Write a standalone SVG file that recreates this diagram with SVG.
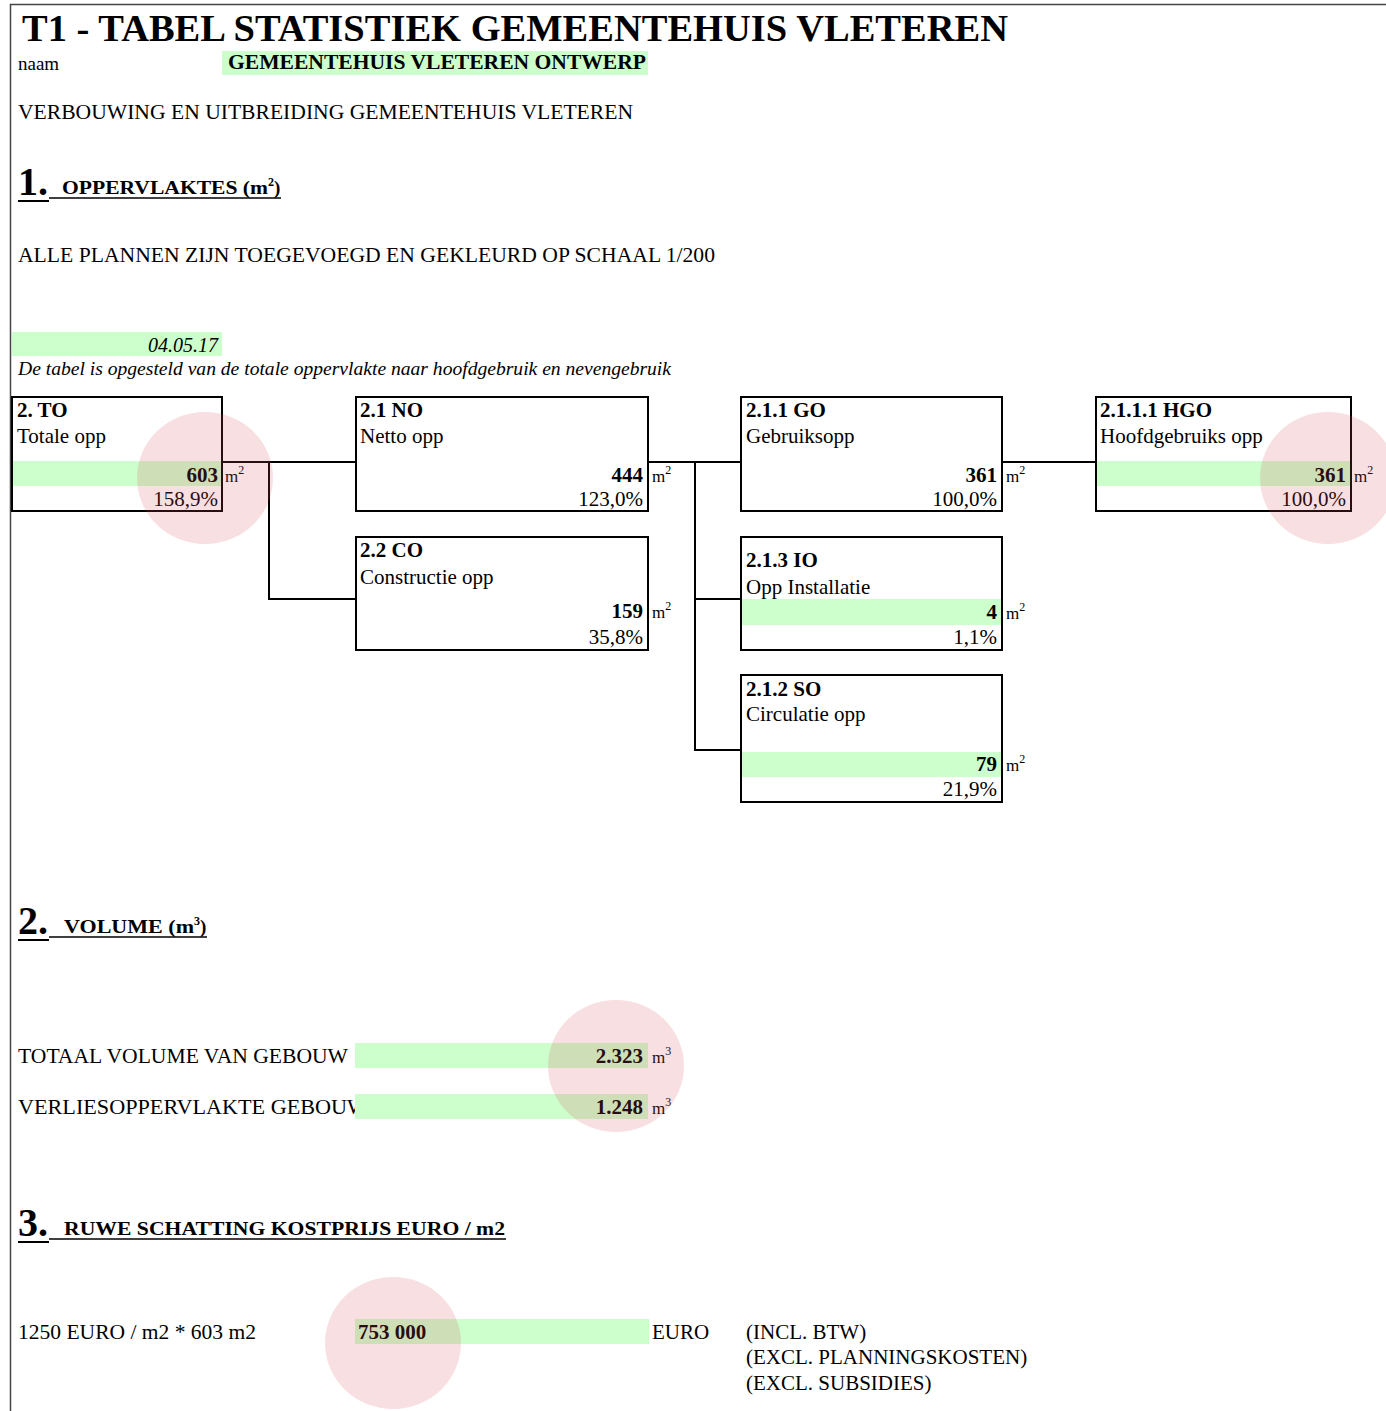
<svg xmlns="http://www.w3.org/2000/svg" width="1386" height="1411" viewBox="0 0 1386 1411">
<style>
text{font-family:"Liberation Serif","Times New Roman",serif;font-size:21px;fill:#000}
.b{font-weight:bold}
.i{font-style:italic}
.r{text-anchor:end}
.box{fill:#fff;stroke:#000;stroke-width:2}
.g{fill:#ccffcc}
.hl{fill:#d9505e;fill-opacity:0.18}
.c{stroke:#000;stroke-width:2;fill:none}
.u{stroke:#000}
.sup{font-size:12px}
</style>
<rect x="0" y="0" width="1386" height="1411" fill="#fff"/>
<path d="M10.5 1411 V4.5 H1386" fill="none" stroke="#444" stroke-width="1.5"/>

<g id="header">
<text x="22" y="41" class="b" style="font-size:38px" textLength="986" lengthAdjust="spacingAndGlyphs">T1 - TABEL STATISTIEK GEMEENTEHUIS VLETEREN</text>
<text x="18" y="70" style="font-size:19px">naam</text>
<rect x="222" y="51" width="426" height="24" class="g"/>
<text x="228" y="69" class="b" style="font-size:20px" textLength="418" lengthAdjust="spacingAndGlyphs">GEMEENTEHUIS VLETEREN ONTWERP</text>
<text x="18" y="119" textLength="615" lengthAdjust="spacingAndGlyphs">VERBOUWING EN UITBREIDING GEMEENTEHUIS VLETEREN</text>
</g>

<g id="section1">
<text x="18" y="195" class="b" style="font-size:40px">1.</text>
<line x1="18" y1="201" x2="49" y2="201" class="u" stroke-width="2"/>
<text x="62" y="194" class="b" style="font-size:19px" textLength="206" lengthAdjust="spacingAndGlyphs">OPPERVLAKTES (m</text>
<text x="268" y="186" class="b sup">2</text>
<text x="274" y="194" class="b" style="font-size:19px">)</text>
<line x1="49" y1="198" x2="281" y2="198" class="u" stroke-width="1.5"/>
<text x="18" y="262" textLength="697" lengthAdjust="spacingAndGlyphs">ALLE PLANNEN ZIJN TOEGEVOEGD EN GEKLEURD OP SCHAAL 1/200</text>
<rect x="12" y="332" width="210" height="24" class="g"/>
<text x="218" y="352" class="i r" style="font-size:20px">04.05.17</text>
<text x="18" y="375" class="i" style="font-size:19px" textLength="653" lengthAdjust="spacingAndGlyphs">De tabel is opgesteld van de totale oppervlakte naar hoofdgebruik en nevengebruik</text>
</g>

<g id="connectors">
<path class="c" d="M222 462 H356 M269 462 V599 H356"/>
<path class="c" d="M648 462 H741 M695 462 V750 H741 M695 599 H741"/>
<path class="c" d="M1002 462 H1096"/>
</g>

<g id="node-TO">
<rect x="12" y="397" width="210" height="114" class="box"/>
<rect x="13" y="461" width="208" height="25" class="g"/>
<text x="17" y="417" class="b">2. TO</text>
<text x="17" y="443">Totale opp</text>
<text x="218" y="482" class="b r">603</text>
<text x="225" y="482" style="font-size:17px">m<tspan class="sup" dy="-8">2</tspan></text>
<text x="218" y="506" class="r">158,9%</text>
</g>

<g id="node-NO">
<rect x="356" y="397" width="292" height="114" class="box"/>
<text x="360" y="417" class="b">2.1 NO</text>
<text x="360" y="443">Netto opp</text>
<text x="643" y="482" class="b r">444</text>
<text x="652" y="482" style="font-size:17px">m<tspan class="sup" dy="-8">2</tspan></text>
<text x="643" y="506" class="r">123,0%</text>
</g>

<g id="node-CO">
<rect x="356" y="537" width="292" height="113" class="box"/>
<text x="360" y="557" class="b">2.2 CO</text>
<text x="360" y="584">Constructie opp</text>
<text x="643" y="618" class="b r">159</text>
<text x="652" y="618" style="font-size:17px">m<tspan class="sup" dy="-8">2</tspan></text>
<text x="643" y="644" class="r">35,8%</text>
</g>

<g id="node-GO">
<rect x="741" y="397" width="261" height="114" class="box"/>
<text x="746" y="417" class="b">2.1.1 GO</text>
<text x="746" y="443">Gebruiksopp</text>
<text x="997" y="482" class="b r">361</text>
<text x="1006" y="482" style="font-size:17px">m<tspan class="sup" dy="-8">2</tspan></text>
<text x="997" y="506" class="r">100,0%</text>
</g>

<g id="node-HGO">
<rect x="1096" y="397" width="255" height="114" class="box"/>
<rect x="1097" y="461" width="253" height="25" class="g"/>
<text x="1100" y="417" class="b">2.1.1.1 HGO</text>
<text x="1100" y="443">Hoofdgebruiks opp</text>
<text x="1346" y="482" class="b r">361</text>
<text x="1354" y="482" style="font-size:17px">m<tspan class="sup" dy="-8">2</tspan></text>
<text x="1346" y="506" class="r">100,0%</text>
</g>

<g id="node-IO">
<rect x="741" y="537" width="261" height="113" class="box"/>
<rect x="742" y="599" width="259" height="26" class="g"/>
<text x="746" y="567" class="b">2.1.3 IO</text>
<text x="746" y="594">Opp Installatie</text>
<text x="997" y="619" class="b r">4</text>
<text x="1006" y="619" style="font-size:17px">m<tspan class="sup" dy="-8">2</tspan></text>
<text x="997" y="644" class="r">1,1%</text>
</g>

<g id="node-SO">
<rect x="741" y="675" width="261" height="127" class="box"/>
<rect x="742" y="752" width="259" height="25" class="g"/>
<text x="746" y="696" class="b">2.1.2 SO</text>
<text x="746" y="721">Circulatie opp</text>
<text x="997" y="771" class="b r">79</text>
<text x="1006" y="771" style="font-size:17px">m<tspan class="sup" dy="-8">2</tspan></text>
<text x="997" y="796" class="r">21,9%</text>
</g>

<g id="section2">
<text x="18" y="934" class="b" style="font-size:40px">2.</text>
<line x1="18" y1="940" x2="49" y2="940" class="u" stroke-width="2"/>
<text x="64" y="933" class="b" style="font-size:19px" textLength="130" lengthAdjust="spacingAndGlyphs">VOLUME (m</text>
<text x="194" y="925" class="b sup">3</text>
<text x="200" y="933" class="b" style="font-size:19px">)</text>
<line x1="49" y1="937" x2="207" y2="937" class="u" stroke-width="1.5"/>
<text x="18" y="1063" textLength="330" lengthAdjust="spacingAndGlyphs">TOTAAL VOLUME VAN GEBOUW</text>
<text x="18" y="1114" textLength="350" lengthAdjust="spacingAndGlyphs">VERLIESOPPERVLAKTE GEBOUW</text>
<rect x="355" y="1043" width="293" height="25" class="g"/>
<rect x="355" y="1094" width="293" height="25" class="g"/>
<text x="643" y="1063" class="b r">2.323</text>
<text x="652" y="1063" style="font-size:17px">m<tspan class="sup" dy="-8">3</tspan></text>
<text x="643" y="1114" class="b r">1.248</text>
<text x="652" y="1114" style="font-size:17px">m<tspan class="sup" dy="-8">3</tspan></text>
</g>

<g id="section3">
<text x="18" y="1236" class="b" style="font-size:40px">3.</text>
<line x1="18" y1="1242" x2="49" y2="1242" class="u" stroke-width="2"/>
<text x="64" y="1235" class="b" style="font-size:19px" textLength="441" lengthAdjust="spacingAndGlyphs">RUWE SCHATTING KOSTPRIJS EURO / m2</text>
<line x1="49" y1="1239" x2="506" y2="1239" class="u" stroke-width="1.5"/>
<text x="18" y="1339" textLength="238" lengthAdjust="spacingAndGlyphs">1250 EURO / m2 * 603 m2</text>
<rect x="355" y="1319" width="294" height="25" class="g"/>
<text x="358" y="1339" class="b">753 000</text>
<text x="652" y="1339">EURO</text>
<text x="746" y="1339">(INCL. BTW)</text>
<text x="746" y="1364">(EXCL. PLANNINGSKOSTEN)</text>
<text x="746" y="1390">(EXCL. SUBSIDIES)</text>
</g>

<g id="highlights">
<ellipse cx="205" cy="478" rx="68" ry="66" class="hl"/>
<ellipse cx="1328" cy="478" rx="68" ry="66" class="hl"/>
<ellipse cx="616" cy="1066" rx="68" ry="66" class="hl"/>
<ellipse cx="393" cy="1343" rx="68" ry="66" class="hl"/>
</g>
</svg>
